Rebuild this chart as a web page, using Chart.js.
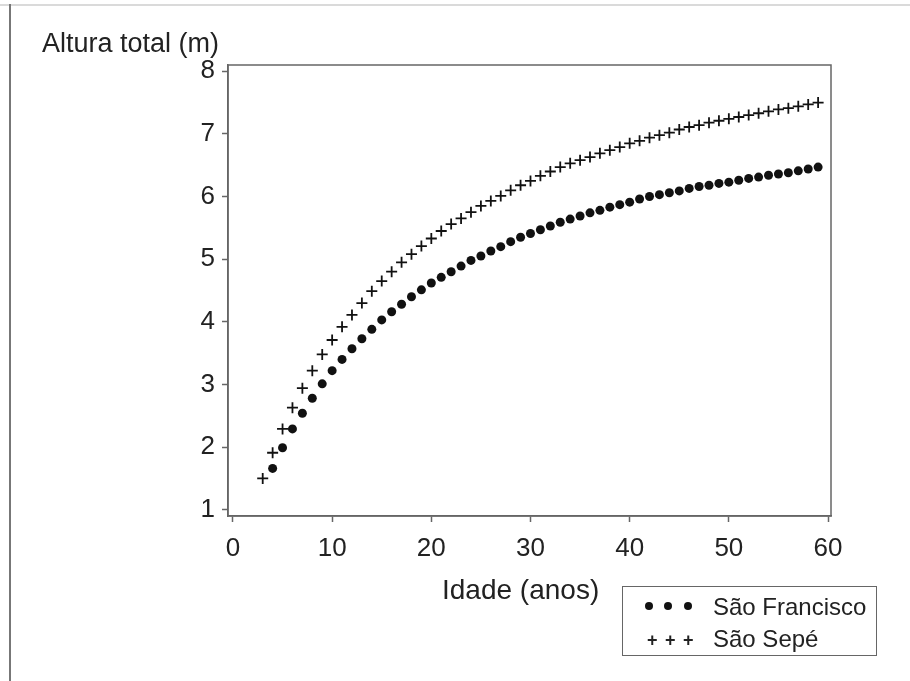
<!DOCTYPE html>
<html>
<head>
<meta charset="utf-8">
<script src="https://cdn.jsdelivr.net/npm/chart.js@4.4.0/dist/chart.umd.min.js"></script>
<style>
  body { margin: 0; background: #fff; }
  #wrap { position: relative; width: 910px; height: 681px; overflow: hidden;
          font-family: 'Liberation Sans', Arial, sans-serif; color: #222; }
  #chart { position: absolute; left: 0; top: 0; }
  .frameTop { position: absolute; left: 0; top: 4px; width: 910px; height: 2px; background: #dadada; }
  .frameLeft { position: absolute; left: 9px; top: 4px; width: 2px; height: 677px; background: #777; }
  .txt { position: absolute; white-space: nowrap; line-height: 1; }
  #ytitle { left: 42px; top: 30px; font-size: 27px; }
  #xtitle { left: 442px; top: 576px; font-size: 28px; }
  #legend { position: absolute; left: 622px; top: 586px; width: 255px; height: 70px;
            border: 1.5px solid #666; box-sizing: border-box; }
  .dot { position: absolute; width: 8px; height: 8px; border-radius: 50%; background: #111; }
  .plus { position: absolute; font-size: 18px; line-height: 1; font-weight: bold; }
  .lg { position: absolute; left: 90px; font-size: 24px; line-height: 1; white-space: nowrap; }
</style>
</head>
<body>
<div id="wrap">
  <div class="frameTop"></div>
  <div class="frameLeft"></div>
  <canvas id="chart" width="910" height="681"></canvas>
  <div class="txt" id="ytitle">Altura total (m)</div>
  <div class="txt" id="xtitle">Idade (anos)</div>
  <div id="legend">
    <div class="dot" style="left:22px;top:15px"></div>
    <div class="dot" style="left:41px;top:15px"></div>
    <div class="dot" style="left:61px;top:15px"></div>
    <div class="lg" style="top:8px">São Francisco</div>
    <div class="plus" style="left:24px;top:44px">+</div>
    <div class="plus" style="left:42px;top:44px">+</div>
    <div class="plus" style="left:60px;top:44px">+</div>
    <div class="lg" style="top:40px">São Sepé</div>
  </div>
</div>
<script>
// idade (anos)
const agesSepe = [];
for (let a = 3; a <= 59; a++) agesSepe.push(a);
const agesFrancisco = agesSepe.slice(1);

// altura total (m)
const sepe = [1.50, 1.91, 2.29, 2.63, 2.94, 3.22, 3.48, 3.71, 3.92, 4.11,
              4.30, 4.49, 4.65, 4.80, 4.95, 5.08, 5.21, 5.33, 5.45, 5.56,
              5.65, 5.75, 5.85, 5.93, 6.01, 6.10, 6.18, 6.25, 6.33, 6.40,
              6.47, 6.53, 6.58, 6.63, 6.69, 6.74, 6.79, 6.85, 6.89, 6.94,
              6.98, 7.02, 7.07, 7.11, 7.14, 7.18, 7.21, 7.24, 7.27, 7.30,
              7.33, 7.36, 7.39, 7.41, 7.44, 7.47, 7.50];
const francisco = [1.66, 1.99, 2.29, 2.54, 2.78, 3.01, 3.22, 3.40, 3.57, 3.73,
                   3.88, 4.03, 4.16, 4.28, 4.40, 4.51, 4.62, 4.71, 4.80, 4.89,
                   4.98, 5.05, 5.13, 5.20, 5.28, 5.35, 5.41, 5.47, 5.53, 5.59,
                   5.64, 5.69, 5.74, 5.78, 5.83, 5.87, 5.91, 5.96, 6.00, 6.03,
                   6.06, 6.09, 6.13, 6.16, 6.18, 6.21, 6.23, 6.26, 6.29, 6.31,
                   6.34, 6.36, 6.38, 6.41, 6.44, 6.47];

const xTicks = [0, 10, 20, 30, 40, 50, 60];
const yTicks = [1, 2, 3, 4, 5, 6, 7, 8];

const fam = "'Liberation Sans', Arial, sans-serif";
const axisColor = '#666';

// closes the frame on top and right
const boxPlugin = {
  id: 'box',
  afterDraw(chart) {
    const { ctx, chartArea: a } = chart;
    ctx.save();
    ctx.strokeStyle = axisColor;
    ctx.lineWidth = 1.5;
    ctx.strokeRect(a.left, a.top, a.right - a.left, a.bottom - a.top);
    ctx.restore();
  }
};

new Chart(document.getElementById('chart'), {
  type: 'scatter',
  data: {
    datasets: [
      {
        label: 'São Francisco',
        data: agesFrancisco.map((a, i) => ({ x: a, y: francisco[i] })),
        pointStyle: 'circle',
        pointRadius: 4.5,
        pointBackgroundColor: '#111',
        pointBorderWidth: 0
      },
      {
        label: 'São Sepé',
        data: agesSepe.map((a, i) => ({ x: a, y: sepe[i] })),
        pointStyle: 'cross',
        pointRadius: 5.5,
        pointBorderColor: '#111',
        pointBorderWidth: 1.8
      }
    ]
  },
  options: {
    responsive: false,
    animation: false,
    devicePixelRatio: 1,
    layout: { padding: { top: 65, right: 79, left: 0, bottom: 0 } },
    plugins: { legend: { display: false }, tooltip: { enabled: false } },
    scales: {
      x: {
        type: 'linear',
        min: -0.5,
        max: 60.3,
        afterBuildTicks: s => { s.ticks = xTicks.map(v => ({ value: v })); },
        afterFit: s => { s.height = 165; },
        grid: { drawOnChartArea: false, tickLength: 6, tickColor: axisColor, tickWidth: 1.5 },
        border: { color: axisColor, width: 1.5 },
        ticks: { font: { family: fam, size: 26 }, color: '#222', padding: 11, maxRotation: 0, autoSkip: false }
      },
      y: {
        min: 0.9,
        max: 8.1,
        afterBuildTicks: s => { s.ticks = yTicks.map(v => ({ value: v })); },
        afterFit: s => { s.width = 228; },
        grid: { drawOnChartArea: false, tickLength: 6, tickColor: axisColor, tickWidth: 1.5 },
        border: { color: axisColor, width: 1.5 },
        ticks: { font: { family: fam, size: 26 }, color: '#222', padding: 7 }
      }
    }
  },
  plugins: [boxPlugin]
});
</script>
</body>
</html>
